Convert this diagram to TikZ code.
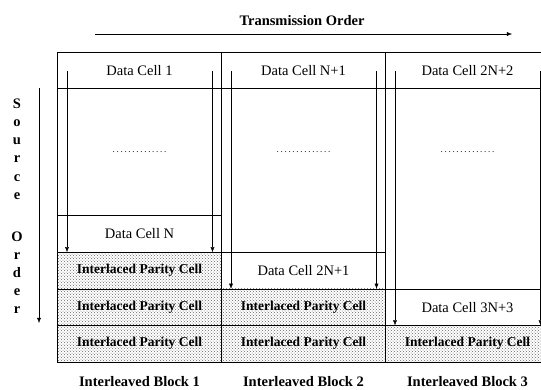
\documentclass[tikz,border=0pt]{standalone}
\usepackage{fontspec}
\setmainfont{Liberation Serif}
\usetikzlibrary{arrows.meta}
\usetikzlibrary{positioning}
\usetikzlibrary{patterns}
\tikzset{>={Latex[width=1.4mm,length=1.8mm]}}
\tikzset{
  cell/.style={draw, minimum width=164pt, minimum height=36.6pt, inner sep=0pt,
    outer sep=0pt, font=\fontsize{14.5}{16}\selectfont},
  gapcell/.style={cell, minimum height=#1},
  parity/.style={cell, pattern=crosshatch dots, pattern color=black!60,
    font=\bfseries\fontsize{13.5}{16}\selectfont},
  caption/.style={font=\bfseries\fontsize{14.5}{16}\selectfont, anchor=base}
}
\newcommand{\dotline}{\makebox[56pt]{\fontsize{9}{9}\selectfont\dotfill}}

\begin{document}
\begin{tikzpicture}[x=1pt,y=-1pt]
  \clip (0,0) rectangle (541,389);

  % Transmission order on top
  \node[caption] (trans) at (302,25) {Transmission Order};
  \coordinate (tstart) at (95,34);
  \coordinate (tend) at (512,34);
  \draw[->] (tstart) -- (tend);

  % Source order on the left, one letter a row
  \foreach [count=\i] \ch/\yy in {S/108,o/126,u/144,r/162,c/181,e/199,O/241,r/259,d/277,e/295,r/313}
    \node[caption, inner sep=0pt] (src\i) at (17,\yy) {\ch};
  \coordinate (sstart) at (39,88);
  \coordinate (send) at (39,323);
  \draw[->] (sstart) -- (send);

  \coordinate (dotrow) at (0,152);

  % Block 1
  \node[cell, anchor=north] (b1d1) at (139.5,52) {Data Cell 1};
  \node[gapcell=127pt, below=0pt of b1d1] (b1gap) {};
  \node[cell, below=0pt of b1gap] (b1dn) {Data Cell N};
  \node[parity, below=0pt of b1dn] (b1p1) {Interlaced Parity Cell};
  \node[parity, below=0pt of b1p1] (b1p2) {Interlaced Parity Cell};
  \node[parity, below=0pt of b1p2] (b1p3) {Interlaced Parity Cell};
  \node (b1dots) at (b1gap |- dotrow) {\dotline};

  % Block 2
  \node[cell, anchor=north] (b2d1) at (303.5,52) {Data Cell N+1};
  \node[gapcell=163.6pt, below=0pt of b2d1] (b2gap) {};
  \node[cell, below=0pt of b2gap] (b2dn) {Data Cell 2N+1};
  \node[parity, below=0pt of b2dn] (b2p1) {Interlaced Parity Cell};
  \node[parity, below=0pt of b2p1] (b2p2) {Interlaced Parity Cell};
  \node (b2dots) at (b2gap |- dotrow) {\dotline};

  % Block 3
  \node[cell, anchor=north] (b3d1) at (467.5,52) {Data Cell 2N+2};
  \node[gapcell=200.2pt, below=0pt of b3d1] (b3gap) {};
  \node[cell, below=0pt of b3gap] (b3dn) {Data Cell 3N+3};
  \node[parity, below=0pt of b3dn] (b3p1) {Interlaced Parity Cell};
  \node (b3dots) at (b3gap |- dotrow) {\dotline};

  % Reading order inside each block
  \foreach \b in {1,2,3} {
    \draw[->] ([shift={(9.5,19)}]b\b d1.north west) -- ([shift={(9.5,0)}]b\b dn.south west);
    \draw[->] ([shift={(-9,19)}]b\b d1.north east) -- ([shift={(-9,0)}]b\b dn.south east);
  }

  % Block names
  \foreach \b/\xx in {1/139.5,2/303.5,3/467.5}
    \node[caption] (blk\b) at (\xx,386) {Interleaved Block \b};
\end{tikzpicture}
\end{document}
